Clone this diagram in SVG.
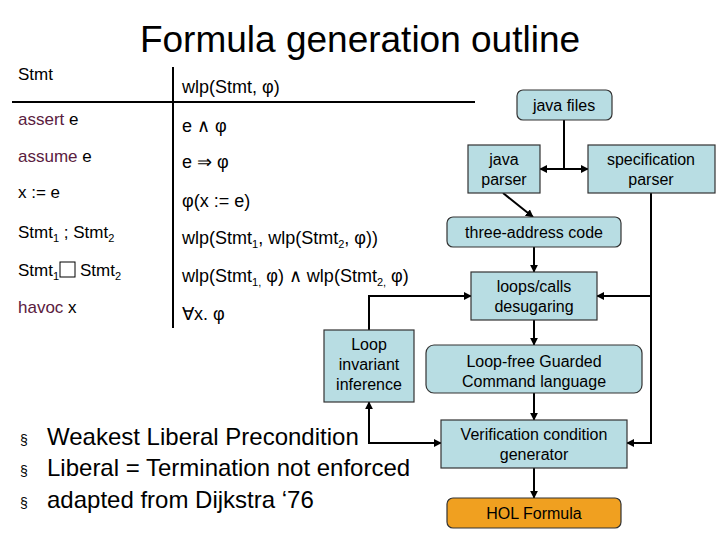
<svg xmlns="http://www.w3.org/2000/svg" width="720" height="540" viewBox="0 0 720 540">
<style>
text{font-family:"Liberation Sans",Arial,sans-serif;fill:#000}
.t{font-size:17px}
.r{font-size:18px}
.kw{fill:#5a2040}
.b{fill:#b8dde3;stroke:#333;stroke-width:1.2}
.n{font-size:16px;text-anchor:middle}
.c{stroke:#000;stroke-width:2;fill:none}
.bl{font-size:24px}
</style>
<defs><marker id="a" viewBox="0 0 10 10" refX="9" refY="5" markerWidth="4" markerHeight="4" orient="auto-start-reverse"><path d="M0,0L10,5L0,10z" fill="#000"/></marker></defs>
<rect width="720" height="540" fill="#fff"/>
<text x="360" y="52" font-size="37" text-anchor="middle">Formula generation outline</text>
<g id="table">
<line x1="173" y1="67" x2="173" y2="328" stroke="#000" stroke-width="2"/>
<line x1="12" y1="102" x2="475" y2="102" stroke="#000" stroke-width="2"/>
<text class="t" x="18" y="80">Stmt</text>
<text class="r" x="182" y="93">wlp(Stmt, φ)</text>
<text class="t" x="18" y="125"><tspan class="kw">assert</tspan> e</text>
<text class="r" x="182" y="132">e ∧ φ</text>
<text class="t" x="18" y="162"><tspan class="kw">assume</tspan> e</text>
<text class="r" x="182" y="168">e ⇒ φ</text>
<text class="t" x="18" y="198">x := e</text>
<text class="r" x="182" y="207">φ(x := e)</text>
<text class="t" x="18" y="238">Stmt<tspan font-size="11" dy="4">1</tspan><tspan dy="-4"> ; Stmt</tspan><tspan font-size="11" dy="4">2</tspan></text>
<text class="r" x="182" y="244">wlp(Stmt<tspan font-size="11" dy="4">1</tspan><tspan dy="-4">, wlp(Stmt</tspan><tspan font-size="11" dy="4">2</tspan><tspan dy="-4">, φ))</tspan></text>
<text class="t" x="18" y="276">Stmt<tspan font-size="11" dy="4">1</tspan></text>
<rect x="60" y="262" width="15" height="15" fill="none" stroke="#000" stroke-width="1"/>
<text class="t" x="80" y="276">Stmt<tspan font-size="11" dy="4">2</tspan></text>
<text class="r" x="182" y="282">wlp(Stmt<tspan font-size="11" dy="4">1,</tspan><tspan dy="-4"> φ) ∧ wlp(Stmt</tspan><tspan font-size="11" dy="4">2,</tspan><tspan dy="-4"> φ)</tspan></text>
<text class="t" x="18" y="313"><tspan class="kw">havoc</tspan> x</text>
<text class="r" x="182" y="320">∀x. φ</text>
</g>
<g id="bullets" class="bl">
<text x="20" y="445" font-size="14" fill="#555">§</text><text x="47" y="445">Weakest Liberal Precondition</text>
<text x="20" y="476" font-size="14" fill="#555">§</text><text x="47" y="476">Liberal = Termination not enforced</text>
<text x="20" y="508" font-size="14" fill="#555">§</text><text x="47" y="508">adapted from Dijkstra ‘76</text>
</g>
<g id="connectors">
<path class="c" d="M564,120V169"/>
<path class="c" d="M540,169H588" marker-start="url(#a)" marker-end="url(#a)"/>
<path class="c" d="M503,193L533,217" marker-end="url(#a)"/>
<path class="c" d="M534,247V272" marker-end="url(#a)"/>
<path class="c" d="M534,320V345" marker-end="url(#a)"/>
<path class="c" d="M534,393V420" marker-end="url(#a)"/>
<path class="c" d="M534,468V498" marker-end="url(#a)"/>
<path class="c" d="M651,193V443H627" marker-end="url(#a)"/>
<path class="c" d="M651,296H597" marker-end="url(#a)"/>
<path class="c" d="M369,330V296H471" marker-end="url(#a)"/>
<path class="c" d="M369,402V443H441" marker-start="url(#a)" marker-end="url(#a)"/>
</g>
<g id="javafiles"><rect class="b" x="517" y="90" width="95" height="30" rx="6"/><text class="n" x="564" y="111">java files</text></g>
<g id="javaparser"><rect class="b" x="468" y="145" width="72" height="48"/><text class="n" x="504" y="165">java</text><text class="n" x="504" y="185">parser</text></g>
<g id="specparser"><rect class="b" x="588" y="145" width="127" height="48"/><text class="n" x="651" y="165">specification</text><text class="n" x="651" y="185">parser</text></g>
<g id="tac"><rect class="b" x="447" y="217" width="174" height="30" rx="6"/><text class="n" x="534" y="238">three-address code</text></g>
<g id="loops"><rect class="b" x="471" y="272" width="126" height="48"/><text class="n" x="534" y="292">loops/calls</text><text class="n" x="534" y="312">desugaring</text></g>
<g id="lii"><rect class="b" x="324" y="330" width="90" height="72"/><text class="n" x="369" y="350">Loop</text><text class="n" x="369" y="370">invariant</text><text class="n" x="369" y="390">inference</text></g>
<g id="lfgc"><rect class="b" x="426" y="345" width="216" height="48" rx="8"/><text class="n" x="534" y="367">Loop-free Guarded</text><text class="n" x="534" y="387">Command language</text></g>
<g id="vc"><rect class="b" x="441" y="420" width="186" height="48"/><text class="n" x="534" y="440">Verification condition</text><text class="n" x="534" y="460">generator</text></g>
<g id="hol"><rect x="447" y="498" width="174" height="30" rx="6" fill="#f0a020" stroke="#333" stroke-width="1.2"/><text class="n" x="534" y="519">HOL Formula</text></g>
</svg>
